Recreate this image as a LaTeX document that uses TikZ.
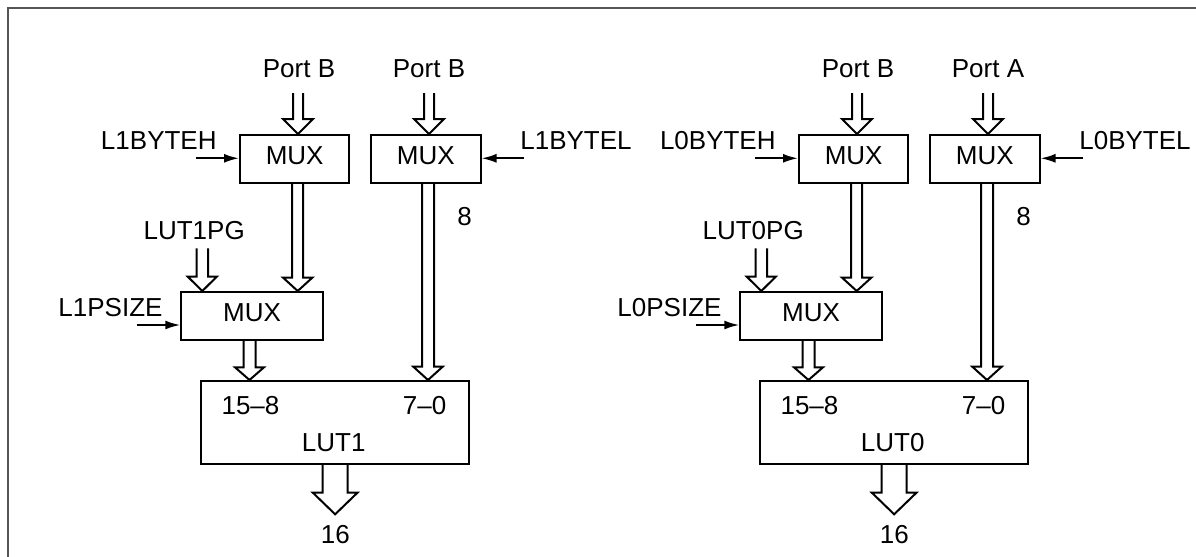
\documentclass[tikz,border=0pt]{standalone}
\usepackage{fontspec}
\setmainfont{Liberation Sans}
\usetikzlibrary{calc,arrows.meta}
\definecolor{framegray}{HTML}{555555}
\tikzset{
  box/.style={draw, line width=1pt, minimum width=54.65pt, minimum height=24pt, inner sep=0pt, text depth=3pt},
  lbl/.style={anchor=base, inner sep=0pt},
  bus/.style={draw, line width=1pt, fill=white, line join=miter},
  sig/.style={line width=1pt, -{Latex[length=7.5pt,width=4.5pt]}},
  frame/.style={line width=1pt, draw=framegray},
}
% #1 start (open end), #2 tip, #3 shaft half width, #4 head half width, #5 head length
\newcommand\hollowarrow[5]{%
  \draw[bus] ($(#1)+(-#3,0)$) -- ($(#2)+(-#3,-#5)$) -- ($(#2)+(-#4,-#5)$) -- (#2)
    -- ($(#2)+(#4,-#5)$) -- ($(#2)+(#3,-#5)$) -- ($(#1)+(#3,0)$);%
}
\begin{document}
\begin{tikzpicture}[x=0.5pt,y=-0.5pt,font=\fontsize{13pt}{15pt}\selectfont]
\useasboundingbox (0,0) rectangle (1196,557);
\coordinate (fbl) at (8,557);
\coordinate (ftl) at (8,8);
\coordinate (ftr) at (1196,8);
\draw[frame] (fbl) -- (ftl) -- (ftr);

\foreach \g/\o/\pl/\pr in {1/0/Port B/Port B, 0/559/Port B/Port A} {
\begin{scope}[xshift={\o*0.5pt}]
  % boxes
  \node[box] (muxA\g) at (294.65,159) {MUX};
  \node[box] (muxB\g) at (425.85,159) {MUX};
  \node[box, minimum width=70.7pt] (muxC\g) at (252,316) {MUX};
  \node[box, minimum width=133.85pt, minimum height=41.5pt] (lut\g) at (335.15,422.5) {};

  % labels
  \node[lbl] (pl\g) at (299,77) {\pl};
  \node[lbl] (pr\g) at (429,77) {\pr};
  \node[lbl] (beh\g) at (158.8,149) {L\g BYTEH};
  \node[lbl] (bel\g) at (576,149) {L\g BYTEL};
  \node[lbl] (pg\g) at (194.2,239) {LUT\g PG};
  \node[lbl] (ps\g) at (110.5,316) {L\g PSIZE};
  \node[lbl] (hi\g) at (250.5,414.3) {15--8};
  \node[lbl] (lo\g) at (424.6,414.3) {7--0};
  \node[lbl] (ln\g) at (333.7,451) {LUT\g};
  \node[lbl] (w8\g) at (464.7,225.7) {8};
  \node[lbl] (w16\g) at (335.3,543.3) {16};

  % control signals
  \coordinate (behs\g) at (196,158.3);
  \draw[sig] (behs\g) -- (behs\g -| muxA\g.west);
  \coordinate (bels\g) at (524.3,158.3);
  \draw[sig] (bels\g) -- (bels\g -| muxB\g.east);
  \coordinate (pss\g) at (137.3,325);
  \draw[sig] (pss\g) -- (pss\g -| muxC\g.west);

  % buses
  \coordinate (t1\g) at (298,93);
  \coordinate (e1\g) at (t1\g |- muxA\g.north);
  \hollowarrow{t1\g}{e1\g}{5}{15}{15}
  \coordinate (t2\g) at (429,93);
  \coordinate (e2\g) at (t2\g |- muxB\g.north);
  \hollowarrow{t2\g}{e2\g}{5}{15}{15}
  \coordinate (xa\g) at (297.7,0);
  \coordinate (t3\g) at (xa\g |- muxA\g.south);
  \coordinate (e3\g) at (xa\g |- muxC\g.north);
  \hollowarrow{t3\g}{e3\g}{5.5}{14.7}{13.4}
  \coordinate (xb\g) at (428,0);
  \coordinate (t4\g) at (xb\g |- muxB\g.south);
  \coordinate (e4\g) at (xb\g |- lut\g.north);
  \hollowarrow{t4\g}{e4\g}{6}{14.7}{13.3}
  \coordinate (t5\g) at (202.3,248.3);
  \coordinate (e5\g) at (t5\g |- muxC\g.north);
  \hollowarrow{t5\g}{e5\g}{5.8}{14.5}{14.3}
  \coordinate (xc\g) at (249.5,0);
  \coordinate (t6\g) at (xc\g |- muxC\g.south);
  \coordinate (e6\g) at (xc\g |- lut\g.north);
  \hollowarrow{t6\g}{e6\g}{6}{14.5}{12.7}
  \coordinate (t7\g) at (lut\g.south);
  \coordinate (e7\g) at ($(lut\g.south)+(0,49.3)$);
  \hollowarrow{t7\g}{e7\g}{12.5}{22.3}{21.6}
\end{scope}
}
\end{tikzpicture}
\end{document}
